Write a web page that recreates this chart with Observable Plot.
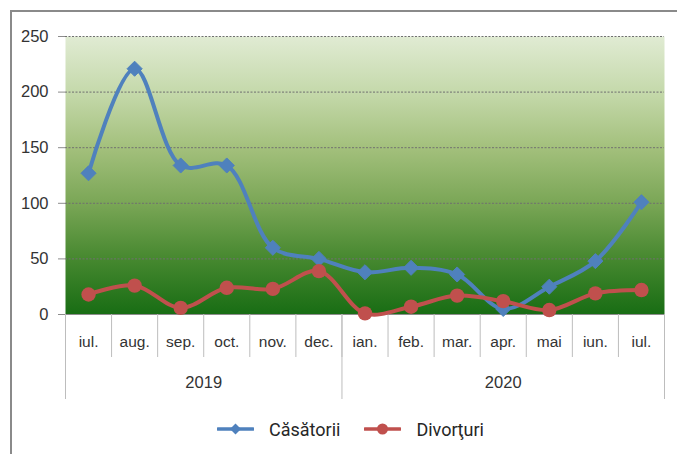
<!DOCTYPE html>
<html><head><meta charset="utf-8">
<script src="https://cdn.jsdelivr.net/npm/d3@7"></script>
<script src="https://cdn.jsdelivr.net/npm/@observablehq/plot@0.6"></script>
<style>
body{margin:0;background:#fff;}
#wrap{position:relative;width:677px;height:454px;overflow:hidden;}
#border{position:absolute;left:10px;top:10px;width:720px;height:520px;border-top:2px solid #8a8a8a;border-left:2px solid #8a8a8a;box-sizing:border-box;}
#chart{position:absolute;left:0;top:0;}
#legend{position:absolute;top:412px;left:217px;height:34px;display:flex;align-items:center;font-family:Roboto,"Liberation Sans",Arial,sans-serif;font-size:18px;color:#262626;}
#legend .item{display:flex;align-items:center;}
#legend svg{margin-right:15px;}
</style>
</head><body>
<div id="wrap"><div id="border"></div><div id="chart"></div><div id="legend"></div></div>
<script>
const months = ["iul.","aug.","sep.","oct.","nov.","dec.","ian.","feb.","mar.","apr.","mai","iun.","iul."];
const years = ["2019","2020"];
const monthsPerYear = [6,7];
const casatorii = [127,221,134,134,60,50,38,42,36,5,25,48,101];
const divorturi = [18,26,6,24,23,39,1,7,17,12,4,19,22];
const yTicks = [0,50,100,150,200,250];
const seriesNames = ["Căsătorii","Divorţuri"];
const colors = ["#4f81bd","#c0504d"];

const rows = months.map((m,i)=>({i:i+0.5, m, c:casatorii[i], d:divorturi[i]}));
const monthBounds = d3.range(months.length+1);
const yearBounds = [0, ...d3.cumsum(monthsPerYear)];
const yearCenters = years.map((y,k)=>(yearBounds[k]+yearBounds[k+1])/2);
const monthCenters = rows.map(r=>r.i);

const defs = () => {
  const d = d3.create("svg:defs");
  const g = d.append("linearGradient").attr("id","bg").attr("x1",0).attr("y1",0).attr("x2",0).attr("y2",1);
  [["0%","#e0ebd3"],["20%","#c5d9ab"],["40%","#a3c07c"],["60%","#7aa656"],["80%","#46882f"],["100%","#186d14"]]
    .forEach(([o,c])=>g.append("stop").attr("offset",o).attr("stop-color",c));
  return d.node();
};

const chart = Plot.plot({
  width: 677, height: 410,
  marginLeft: 65, marginRight: 13, marginTop: 36, marginBottom: 96,
  style: {fontFamily: '"Liberation Sans", Arial, sans-serif', fontSize: "16px", color: "#3a3a3a", background: "transparent"},
  x: {type: "linear", domain: [0, months.length]},
  y: {domain: [0, 250]},
  marks: [
    defs,
    Plot.frame({fill: "url(#bg)", stroke: "none"}),
    Plot.gridY(yTicks.filter(v=>v>0), {stroke: "#707070", strokeOpacity: 1, strokeDasharray: "2,1.5", strokeWidth: 1}),
    Plot.ruleY([0], {stroke: "#8c8c8c", strokeWidth: 1}),
    Plot.axisY(yTicks, {tickSize: 7, tickPadding: 10, stroke: "#8c8c8c", fontSize: 16.5, fill: "#333", label: null}),
    Plot.axisX(monthBounds, {tickSize: 43, stroke: "#bdbdbd", tickFormat: () => "", label: null}),
    Plot.axisX(yearBounds, {tickSize: 85, stroke: "#bdbdbd", tickFormat: () => "", label: null}),
    Plot.axisX(monthCenters, {tickSize: 0, tickPadding: 21, tickFormat: d => months[Math.floor(d)], fontSize: 15.5, fill: "#333", label: null}),
    Plot.axisX(yearCenters, {tickSize: 0, tickPadding: 62, tickFormat: d => years[yearCenters.indexOf(d)], fontSize: 16.5, fill: "#333", label: null}),
    Plot.line(rows, {x: "i", y: "c", curve: "catmull-rom", stroke: colors[0], strokeWidth: 4, strokeLinejoin: "round", strokeLinecap: "round"}),
    Plot.dot(rows, {x: "i", y: "c", symbol: "diamond2", r: 6.8, fill: colors[0], stroke: colors[0], strokeWidth: 1}),
    Plot.line(rows, {x: "i", y: "d", curve: "catmull-rom", stroke: colors[1], strokeWidth: 4, strokeLinejoin: "round", strokeLinecap: "round"}),
    Plot.dot(rows, {x: "i", y: "d", symbol: "circle", r: 7.2, fill: colors[1], stroke: "none"})
  ]
});
document.getElementById("chart").appendChild(chart);

const legend = d3.select("#legend");
seriesNames.forEach((name,k)=>{
  const item = legend.append("div").attr("class","item").style("margin-right", k===0 ? "24px" : "0px");
  const s = item.append("svg").attr("width",37).attr("height",14);
  s.append("line").attr("x1",1).attr("x2",36).attr("y1",7).attr("y2",7).attr("stroke",colors[k]).attr("stroke-width",3.5).attr("stroke-linecap","round");
  if (k===0) s.append("path").attr("d","M18.5,1.5L24,7L18.5,12.5L13,7Z").attr("fill",colors[k]);
  else s.append("circle").attr("cx",18.5).attr("cy",7).attr("r",5.5).attr("fill",colors[k]);
  item.append("span").text(name);
});
</script>
</body></html>
